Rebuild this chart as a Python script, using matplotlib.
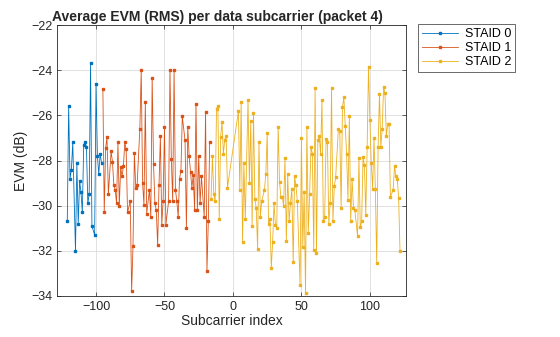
import numpy as np
import matplotlib.pyplot as plt

plt.rcParams['font.family'] = ['Liberation Sans', 'DejaVu Sans']

## subcarrier indices for each station (pilots / nulls left out)
sc0 = [k for k in range(-121, -95) if k not in (-116, -102)]
sc1 = [k for k in range(-95, -16) if k not in (-90, -76, -69, -62, -48, -36, -22)]
sc2 = list(range(-16, -3)) + [k for k in range(4, 123) if k not in (10, 22, 48, 76, 90, 116)]

## EVM per subcarrier in dB
evm0 = [-30.7, -25.6, -28.8, -28.4, -27.2, -32.0, -28.1, -30.8, -28.9, -29.4,
        -30.3, -27.3, -27.2, -27.4, -29.9, -29.5, -23.7, -30.9, -31.3, -24.6,
        -27.8, -28.6, -27.7, -28.1]

evm1 = [-24.85, -30.3, -27.45, -26.97, -29.5, -27.6, -28.05, -29.1, -29.3, -29.9,
        -27.2, -30.0, -28.3, -28.7, -28.25, -27.2, -27.5, -30.3, -29.8, -33.8,
        -31.8, -27.65, -29.2, -29.1, -26.6, -24.0, -29.0, -29.95, -25.4, -30.35,
        -29.3, -30.5, -24.35, -28.15, -29.9, -30.2, -31.75, -29.1, -26.9, -30.85,
        -29.8, -26.5, -30.85, -29.8, -23.97, -27.95, -29.8, -24.0, -29.3, -29.8,
        -30.5, -28.8, -28.45, -26.05, -27.1, -31.0, -26.5, -27.8, -28.5, -29.2,
        -28.65, -30.2, -25.5, -30.2, -27.8, -29.9, -28.7, -30.5, -25.85, -32.9,
        -30.7, -27.2]

evm2 = [-29.7, -27.8, -29.5, -29.8, -25.7, -25.6, -30.6, -26.95, -26.3, -27.7,
        -27.1, -26.9, -29.2,
        -25.8, -29.3, -25.4, -31.6, -28.1, -30.6, -25.3, -29.0, -26.25, -30.9,
        -25.9, -29.7, -30.1, -31.9, -27.2, -30.5, -29.8, -29.3, -28.6, -26.8,
        -30.8, -30.6, -32.75, -31.6, -29.9, -30.85, -31.0, -26.5, -28.95, -29.6,
        -29.6, -30.0, -27.9, -31.55, -28.6, -30.7, -29.9, -29.25, -32.5,
        -28.7, -29.1, -29.8, -33.5, -27.0, -31.85, -29.4, -33.85, -26.5, -31.2,
        -29.5, -27.4, -27.7, -31.95, -24.8, -32.1, -27.1, -26.9, -27.7, -25.3,
        -30.7, -30.5, -27.05, -27.2, -30.8, -29.9, -24.8, -30.7, -29.15, -28.75,
        -26.6, -26.7, -30.1, -25.65, -25.2, -26.45, -27.7, -29.75, -26.05,
        -30.7, -28.8, -30.1, -30.2, -31.35, -27.9, -30.95, -30.7, -27.85, -28.2,
        -30.4, -27.4, -23.85, -26.2, -28.1, -29.25, -27.0, -29.25, -32.55, -27.4,
        -25.05, -27.4, -26.6, -24.75, -25.0, -26.9, -26.4, -26.4, -29.6, -29.3,
        -28.25, -28.7, -28.8, -29.65, -32.0]

labels = ['STAID 0', 'STAID 1', 'STAID 2']
colors = ['#0072BD', '#D95319', '#EDB120']

fig = plt.figure(figsize=(5.6, 3.37), dpi=100)
ax = fig.add_axes([0.1018, 0.1217, 0.623, 0.804])

for x, y, lab, c in zip([sc0, sc1, sc2], [evm0, evm1, evm2], labels, colors):
    ax.plot(x, y, '-s', color=c, lw=0.6, ms=1.7, label=lab)

ax.set_xlim(-128.5, 126.3)
ax.set_ylim(-34, -22)
ax.set_xticks([-100, -50, 0, 50, 100])
ax.set_yticks(np.arange(-34, -21, 2))
ax.grid(True, color='#dcdcdc', lw=0.6)
ax.set_axisbelow(True)
ax.tick_params(direction='in', length=3, labelsize=9, colors='#262626', width=0.5,
               top=True, right=True)
for s in ax.spines.values():
    s.set_color('#262626')
    s.set_linewidth(0.6)

ax.set_xlabel('Subcarrier index', fontsize=10, color='#262626', labelpad=1)
ax.set_ylabel('EVM (dB)', fontsize=10, color='#262626', labelpad=2)
ax.set_title('Average EVM (RMS) per data subcarrier (packet 4)', fontsize=10,
             fontweight='bold', color='#262626', x=0.46, pad=3)

leg = ax.legend(loc='upper left', bbox_to_anchor=(1.034, 1.004), fontsize=9,
                fancybox=False, edgecolor='#262626', handlelength=2.9,
                borderpad=0.35, labelspacing=0.15, handletextpad=0.5, borderaxespad=0)
leg.get_frame().set_linewidth(0.6)

fig.savefig('out.png', dpi=100)
